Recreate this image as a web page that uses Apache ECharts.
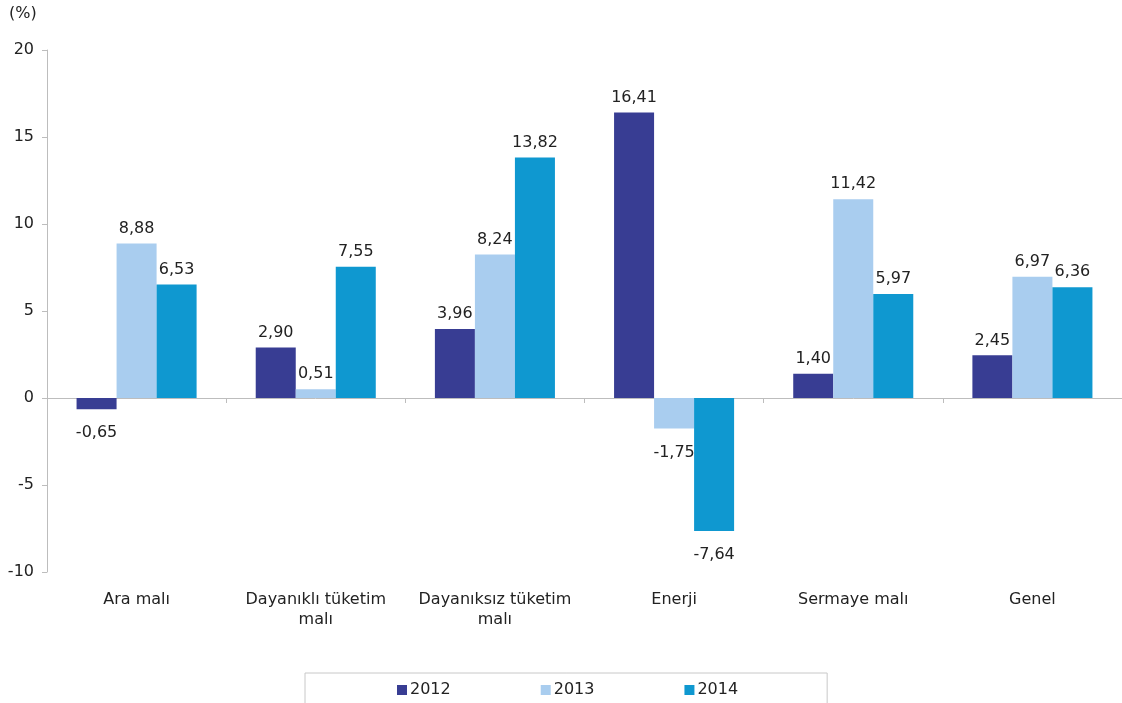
<!DOCTYPE html>
<html><head><meta charset="utf-8">
<script src="https://cdn.jsdelivr.net/npm/echarts@6/dist/echarts.min.js"></script>
<style>html,body{margin:0;padding:0;background:#fff}#c{width:1122px;height:703px}</style>
</head><body><div id="c"></div>
<script>
const categories = ['Ara malı', 'Dayanıklı tüketim\nmalı', 'Dayanıksız tüketim\nmalı', 'Enerji', 'Sermaye malı', 'Genel'];
const s2012 = [-0.65, 2.90, 3.96, 16.41, 1.40, 2.45];
const s2013 = [8.88, 0.51, 8.24, -1.75, 11.42, 6.97];
const s2014 = [6.53, 7.55, 13.82, -7.64, 5.97, 6.36];
const yTicks = [-10, -5, 0, 5, 10, 15, 20];
const seriesNames = ['2012', '2013', '2014'];
const colors = ['#383d93', '#a9cdef', '#0f98d0'];
const font = 'DejaVu Sans, sans-serif';

const chart = echarts.init(document.getElementById('c'));
function fmt(p) {
  const v = typeof p.value === 'number' ? p.value : p.data.value;
  return v.toFixed(2).replace('.', ',');
}
function mk(name, data, color) {
  return {
    name, type: 'bar', xAxisIndex: 0, barGap: '0%', barCategoryGap: '33%',
    data: data.map(v => v < 0 ? { value: v, label: { position: 'bottom', distance: 16 } } : v),
    itemStyle: { color },
    label: {
      show: true, fontFamily: font, fontSize: 16, color: '#222',
      formatter: fmt, position: 'top', distance: 7
    },
    emphasis: { disabled: true }
  };
}
const series = [mk(seriesNames[0], s2012, colors[0]), mk(seriesNames[1], s2013, colors[1]), mk(seriesNames[2], s2014, colors[2])];
chart.setOption({
  animation: false,
  textStyle: { fontFamily: font },
  grid: { left: 47, top: 50, width: 1080, height: 522, containLabel: false },
  graphic: [{ type: 'text', left: 9, top: 6, style: { text: '(%)', font: '16px ' + font, fill: '#222' } }],
  legend: {
    data: seriesNames, left: 305, top: 673, itemWidth: 10, itemHeight: 10, itemGap: 90,
    borderColor: '#c8c8c8', borderWidth: 1, padding: [9, 89, 14, 92],
    icon: 'rect', textStyle: { fontSize: 16, color: '#222', fontFamily: font, padding: [0, 0, 0, -2] }
  },
  xAxis: [{
    type: 'category', data: categories,
    axisLine: { onZero: true, lineStyle: { color: '#bdbdbd' } },
    axisTick: { show: true, length: 5, lineStyle: { color: '#bdbdbd' } },
    axisLabel: { show: false }
  }, {
    type: 'category', data: categories, position: 'bottom',
    axisLine: { show: false }, axisTick: { show: false },
    axisLabel: { show: true, margin: 18, fontSize: 16, color: '#222', fontFamily: font, lineHeight: 20, interval: 0 }
  }],
  yAxis: {
    type: 'value', min: yTicks[0], max: yTicks[yTicks.length - 1], interval: 5,
    axisLine: { show: true, lineStyle: { color: '#bdbdbd' } },
    axisTick: { show: true, length: 5, lineStyle: { color: '#bdbdbd' } },
    splitLine: { show: false },
    axisLabel: { fontSize: 16, color: '#222', margin: 13, fontFamily: font }
  },
  series
});
</script></body></html>
